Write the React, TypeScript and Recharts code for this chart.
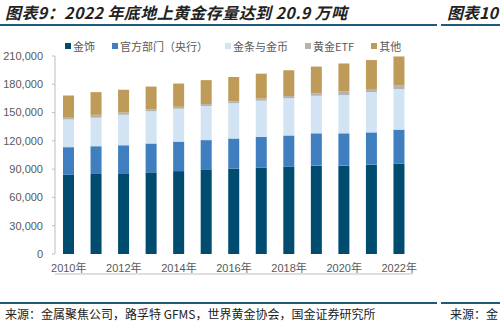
import React from 'react';
import { BarChart, Bar, XAxis, YAxis, Legend } from 'recharts';

const years = ['2010年', '2011年', '2012年', '2013年', '2014年', '2015年', '2016年', '2017年', '2018年', '2019年', '2020年', '2021年', '2022年'];
const jewelry = [84000, 84900, 84900, 86600, 87900, 89800, 90800, 91800, 92500, 93700, 93700, 94700, 96000];
const official = [29300, 29400, 30400, 30600, 31300, 31000, 31700, 32300, 33200, 34300, 34300, 34300, 35900];
const barsCoins = [29400, 30300, 32300, 34300, 34900, 36200, 37500, 38500, 39500, 39800, 40500, 42700, 43100];
const etf = [2600, 3000, 2600, 1900, 2000, 2000, 1900, 2300, 2300, 2600, 4200, 3300, 3600];
const other = [22800, 24100, 24100, 24200, 24700, 25400, 25800, 26400, 27400, 28400, 29400, 30700, 30900];
const yTicks = [0, 30000, 60000, 90000, 120000, 150000, 180000, 210000];

const series = [
  { key: 'jewelry', name: '金饰', color: '#004B70' },
  { key: 'official', name: '官方部门（央行）', color: '#3F7FBF' },
  { key: 'barsCoins', name: '金条与金币', color: '#D2E3F3' },
  { key: 'etf', name: '黄金ETF', color: '#B3B3B3' },
  { key: 'other', name: '其他', color: '#BF9B5A' },
];

const data = years.map((year, i) => ({
  year,
  jewelry: jewelry[i],
  official: official[i],
  barsCoins: barsCoins[i],
  etf: etf[i],
  other: other[i],
}));

// boundaries between categories, used only for the small x-axis tick marks
const boundaries = years.map((_, i) => i).concat(years.length);

const FONT = "'Liberation Sans', Arial, 'Noto Sans CJK SC', sans-serif";
const CJK = "'Noto Sans CJK SC', sans-serif";

const LegendContent = () => (
  <div style={{ display: 'flex', gap: 17, fontFamily: CJK, fontSize: 11, color: '#595959', whiteSpace: 'nowrap' }}>
    {series.map(s => (
      <div key={s.key} style={{ display: 'flex', alignItems: 'center' }}>
        <span style={{ width: 6, height: 6, background: s.color, marginRight: 2, display: 'inline-block' }} />
        <span>{s.name}</span>
      </div>
    ))}
  </div>
);

const titleStyle: React.CSSProperties = {
  position: 'absolute',
  top: 0,
  fontFamily: CJK,
  fontStyle: 'italic',
  fontWeight: 700,
  fontSize: 16,
  letterSpacing: 0.4,
  color: '#222',
  whiteSpace: 'nowrap',
};

export default function App() {
  return (
    <div style={{ position: 'absolute', left: 0, top: 0, width: 500, height: 321, background: '#fff', overflow: 'hidden' }}>
      <div style={{ ...titleStyle, left: 5 }}>图表9：2022 年底地上黄金存量达到 20.9 万吨</div>
      <div style={{ ...titleStyle, left: 447, letterSpacing: 0 }}>图表10</div>
      <div style={{ position: 'absolute', left: 0, top: 24, width: 437, height: 2, background: '#1E5A7A' }} />
      <div style={{ position: 'absolute', left: 441, top: 24, width: 59, height: 2, background: '#1E5A7A' }} />

      <BarChart
        width={500}
        height={321}
        data={data}
        margin={{ top: 56, right: 87, bottom: 30, left: 0 }}
        barSize={11}
        style={{ position: 'absolute', left: 0, top: 0 }}
      >
        <XAxis
          xAxisId="grid"
          type="number"
          dataKey="idx"
          domain={[0, years.length]}
          ticks={boundaries}
          tick={false}
          height={1}
          tickSize={4}
          stroke="#A6A6A6"
          axisLine={{ stroke: '#BFBFBF' }}
          tickLine={{ stroke: '#A6A6A6' }}
        />
        <XAxis
          xAxisId="cat"
          dataKey="year"
          interval={1}
          height={20}
          axisLine={false}
          tickLine={false}
          tickSize={0}
          tickMargin={10}
          tick={{ fontSize: 11, fill: '#595959', fontFamily: FONT }}
        />
        <YAxis
          width={55}
          domain={[0, 210000]}
          ticks={yTicks}
          tickSize={3}
          tickMargin={9}
          stroke="#BFBFBF"
          tick={{ fontSize: 11, fill: '#595959', fontFamily: FONT }}
          tickFormatter={(v: number) => v.toLocaleString('en-US')}
        />
        <Legend
          content={<LegendContent />}
          wrapperStyle={{ position: 'absolute', top: 38, left: 65, width: 'auto' }}
        />
        {series.map(s => (
          <Bar
            key={s.key}
            xAxisId="cat"
            dataKey={s.key}
            name={s.name}
            stackId="a"
            fill={s.color}
            isAnimationActive={false}
          />
        ))}
      </BarChart>

      <div style={{ position: 'absolute', left: 0, top: 302, width: 437, height: 2, background: '#1E5A7A' }} />
      <div style={{ position: 'absolute', left: 441, top: 302, width: 59, height: 2, background: '#1E5A7A' }} />
      <div style={{ position: 'absolute', left: 5, top: 305, fontFamily: CJK, fontSize: 12, color: '#222', whiteSpace: 'nowrap' }}>
        来源：金属聚焦公司，路孚特 GFMS，世界黄金协会，国金证券研究所
      </div>
      <div style={{ position: 'absolute', left: 450, top: 305, fontFamily: CJK, fontSize: 12, color: '#222', whiteSpace: 'nowrap' }}>
        来源：金
      </div>
    </div>
  );
}
